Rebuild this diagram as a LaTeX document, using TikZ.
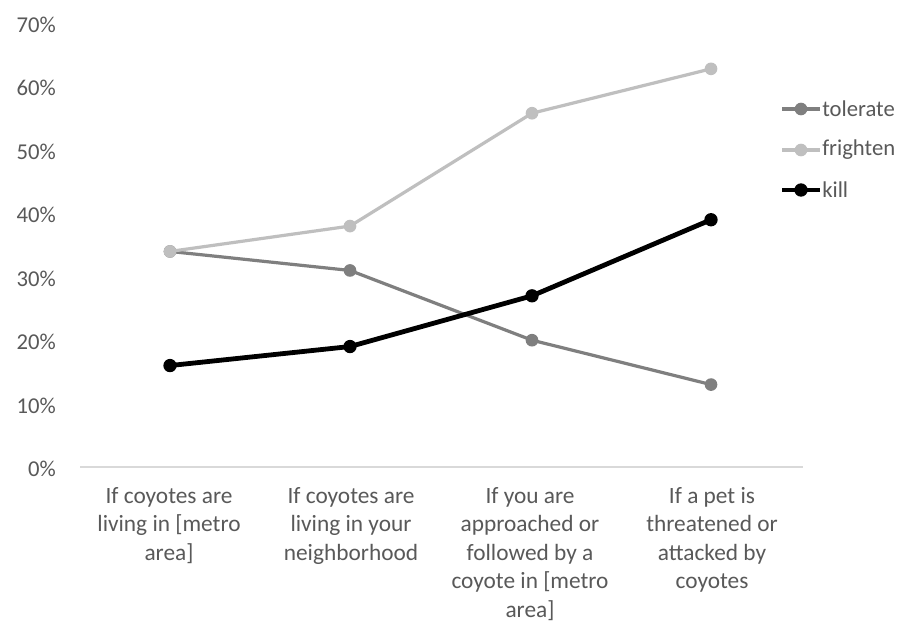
\documentclass[tikz,border=0pt]{standalone}
\usepackage{fontspec}
\setmainfont{Carlito}
\definecolor{txtgray}{HTML}{595959}
\definecolor{axisgray}{HTML}{D9D9D9}
\definecolor{tolgray}{HTML}{7F7F7F}
\definecolor{frigray}{HTML}{BFBFBF}
\begin{document}
\begin{tikzpicture}[x=0.75pt,y=-0.75pt,
  ylab/.style={anchor=east,text=txtgray,font=\fontsize{17}{20}\selectfont,inner sep=0pt},
  catlab/.style={anchor=north,align=center,text=txtgray,font=\fontsize{17.5}{21.4}\selectfont,inner sep=0pt},
  leglab/.style={anchor=west,text=txtgray,font=\fontsize{17}{20}\selectfont,inner sep=0pt},
  tolline/.style={draw=tolgray,line width=2.4pt,line join=round,line cap=round},
  friline/.style={draw=frigray,line width=2.4pt,line join=round,line cap=round},
  killline/.style={draw=black,line width=3.6pt,line join=round,line cap=round},
  tolmark/.style={circle,fill=tolgray,minimum size=9.5pt,inner sep=0pt},
  frimark/.style={circle,fill=frigray,minimum size=9.5pt,inner sep=0pt},
  killmark/.style={circle,fill=black,minimum size=10pt,inner sep=0pt}]
\useasboundingbox[fill=white] (0,0) rectangle (898,623);
% y axis labels
\foreach \v/\n in {0/a,10/b,20/c,30/d,40/e,50/f,60/g,70/h}{
  \node[ylab] (y\n) at (56,{469-6.35*\v}) {\v\%};
}
% baseline
\coordinate (b0) at (80,467);
\coordinate (b1) at (803,467);
\draw[axisgray,line width=1pt] (b0) -- (b1);
% data coordinates
\coordinate (t1) at (170,{467-6.34*34});
\coordinate (t2) at (350,{467-6.34*31});
\coordinate (t3) at (532,{467-6.34*20});
\coordinate (t4) at (711,{467-6.34*13});
\coordinate (f1) at (170,{467-6.34*34});
\coordinate (f2) at (350,{467-6.34*38});
\coordinate (f3) at (532,{467-6.34*55.8});
\coordinate (f4) at (711,{467-6.34*62.8});
\coordinate (k1) at (170,{467-6.34*16});
\coordinate (k2) at (350,{467-6.34*19});
\coordinate (k3) at (532,{467-6.34*27});
\coordinate (k4) at (711,{467-6.34*39});
% tolerate
\draw[tolline] (t1) -- (t2) -- (t3) -- (t4);
\foreach \i in {1,...,4}{\node[tolmark] (tm\i) at (t\i) {};}
% frighten
\draw[friline] (f1) -- (f2) -- (f3) -- (f4);
\foreach \i in {1,...,4}{\node[frimark] (fm\i) at (f\i) {};}
% kill
\draw[killline] (k1) -- (k2) -- (k3) -- (k4);
\foreach \i in {1,...,4}{\node[killmark] (km\i) at (k\i) {};}
% category labels
\node[catlab] (c1) at (169,487) {If coyotes are\\living in [metro\\area]};
\node[catlab] (c2) at (351,487) {If coyotes are\\living in your\\neighborhood};
\node[catlab] (c3) at (530,487) {If you are\\approached or\\followed by a\\coyote in [metro\\area]};
\node[catlab] (c4) at (712,487) {If a pet is\\threatened or\\attacked by\\coyotes};
% legend
\coordinate (lt0) at (782,109); \coordinate (lt1) at (820,109);
\draw[tolline,line cap=butt] (lt0) -- (lt1);
\node[tolmark] (ltm) at (801,109) {};
\node[leglab] (ltx) at (822,109) {tolerate};
\coordinate (lf0) at (782,150); \coordinate (lf1) at (820,150);
\draw[friline,line cap=butt] (lf0) -- (lf1);
\node[frimark] (lfm) at (801,150) {};
\node[leglab] (lfx) at (822,150) {frighten};
\coordinate (lk0) at (782,190); \coordinate (lk1) at (820,190);
\draw[killline,line cap=butt] (lk0) -- (lk1);
\node[killmark] (lkm) at (801,190) {};
\node[leglab] (lkx) at (822,190) {kill};
\end{tikzpicture}
\end{document}
